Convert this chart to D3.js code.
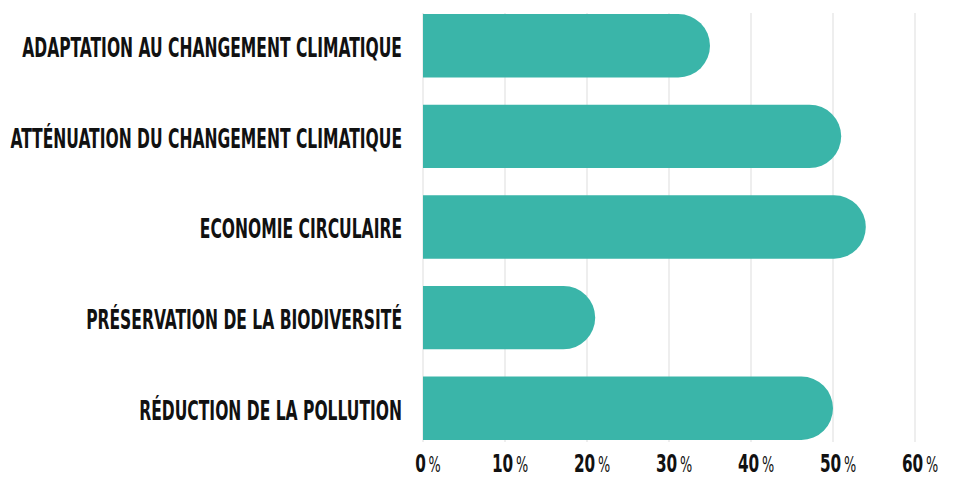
<!DOCTYPE html>
<html>
<head>
<meta charset="utf-8">
<script src="https://cdn.jsdelivr.net/npm/d3@7"></script>
<style>
  body { margin: 0; background: #fff; }
  svg { display: block; }
  .lbl { font-family: "Liberation Sans Narrow", "DejaVu Sans Condensed", sans-serif; font-weight: bold; fill: #111; }
</style>
</head>
<body>
<div id="chart"></div>
<script>
// categories and values (percent)
var categories = [
  "ADAPTATION AU CHANGEMENT CLIMATIQUE",
  "ATTÉNUATION DU CHANGEMENT CLIMATIQUE",
  "ECONOMIE CIRCULAIRE",
  "PRÉSERVATION DE LA BIODIVERSITÉ",
  "RÉDUCTION DE LA POLLUTION"
];
var values = [35, 51, 54, 21, 50];
var tickValues = [0, 10, 20, 30, 40, 50, 60];

var width = 955, height = 479;

var svg = d3.select("#chart")
  .append("svg")
  .attr("width", width)
  .attr("height", height);

var x = d3.scaleLinear().domain([0, 60]).range([423, 915]);
var y = d3.scaleBand().domain(categories).range([14, 440]).paddingInner(0.3);

// gridlines
svg.append("g")
  .selectAll("line")
  .data(tickValues)
  .enter().append("line")
  .attr("x1", d => x(d)).attr("x2", d => x(d))
  .attr("y1", 13).attr("y2", 442)
  .attr("stroke", "#e3e3e3")
  .attr("stroke-width", 1.2);

// bars, flat on the left and round on the right
svg.append("g")
  .selectAll("path")
  .data(values)
  .enter().append("path")
  .attr("fill", "#3ab5a9")
  .attr("d", function(d, i) {
    var x0 = x(0), x1 = x(d), y0 = y(categories[i]), h = y.bandwidth(), r = h / 2;
    return "M" + x0 + "," + y0 + "H" + (x1 - r) +
      "A" + r + "," + r + " 0 0 1 " + (x1 - r) + "," + (y0 + h) +
      "H" + x0 + "Z";
  });

// category labels, squeezed to a condensed look
var labels = svg.append("g")
  .selectAll("text")
  .data(categories)
  .enter().append("text")
  .attr("class", "lbl")
  .attr("font-size", 26)
  .attr("text-anchor", "end")
  .attr("dy", "0.36em")
  .text(d => d);

var w0 = labels.nodes()[0].getComputedTextLength();
var sx = 380 / w0;
labels.attr("transform", function(d) {
  return "translate(402," + (y(d) + y.bandwidth() / 2 + 2) + ") scale(" + sx + ",1)";
});

// x tick labels
var ticks = svg.append("g")
  .selectAll("text")
  .data(tickValues)
  .enter().append("text")
  .attr("class", "lbl")
  .attr("text-anchor", "middle")
  .attr("transform", d => "translate(" + (x(d) + 5) + ",472) scale(0.68,1)");

ticks.append("tspan").attr("font-size", 25).text(d => d);
ticks.append("tspan").attr("font-size", 21).attr("font-weight", "normal").attr("dx", 4).text("%");
</script>
</body>
</html>
